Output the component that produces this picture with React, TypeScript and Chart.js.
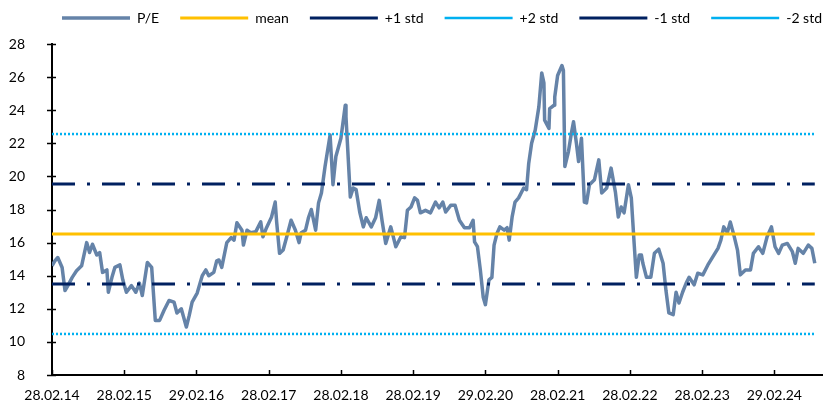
import { useEffect, useRef } from 'react';
import { Chart, registerables } from 'chart.js';

Chart.register(...registerables);

// Tick labels on the date axis (one per year, 28/29 Feb)
const tickLabels = ['28.02.14', '28.02.15', '29.02.16', '28.02.17', '28.02.18', '28.02.19', '29.02.20', '28.02.21', '28.02.22', '28.02.23', '29.02.24'];
const tickYears = [0, 1, 2, 3, 4, 5, 6, 7, 8, 9, 10];

// Time in years since 28.02.14
const years = [
  0.00, 0.04, 0.08, 0.14, 0.18, 0.22, 0.28, 0.34, 0.41, 0.48, 0.52, 0.56, 0.62, 0.66, 0.70, 0.76, 0.78, 0.83, 0.87, 0.94,
  0.98, 1.03, 1.10, 1.16, 1.21, 1.25, 1.32, 1.38, 1.43, 1.49, 1.55, 1.62, 1.69, 1.73, 1.79, 1.86, 1.90, 1.94, 2.01, 2.08,
  2.13, 2.17, 2.24, 2.28, 2.31, 2.35, 2.42, 2.48, 2.52, 2.56, 2.63, 2.65, 2.70, 2.75, 2.82, 2.89, 2.92, 2.97, 3.04, 3.09,
  3.11, 3.15, 3.20, 3.25, 3.31, 3.37, 3.42, 3.45, 3.51, 3.55, 3.59, 3.65, 3.69, 3.73, 3.78, 3.85, 3.89, 3.93, 4.00, 4.06,
  4.07, 4.13, 4.17, 4.21, 4.26, 4.31, 4.35, 4.42, 4.48, 4.53, 4.57, 4.62, 4.69, 4.76, 4.83, 4.88, 4.92, 4.97, 5.02, 5.06,
  5.10, 5.17, 5.24, 5.31, 5.36, 5.41, 5.45, 5.52, 5.58, 5.64, 5.71, 5.78, 5.83, 5.85, 5.89, 5.93, 5.97, 6.00, 6.05, 6.09,
  6.12, 6.16, 6.20, 6.26, 6.30, 6.33, 6.37, 6.41, 6.46, 6.53, 6.57, 6.60, 6.64, 6.69, 6.74, 6.78, 6.81, 6.82, 6.88, 6.89,
  6.95, 6.96, 7.00, 7.06, 7.08, 7.10, 7.15, 7.19, 7.22, 7.26, 7.29, 7.33, 7.37, 7.40, 7.44, 7.51, 7.57, 7.61, 7.68, 7.74,
  7.80, 7.84, 7.88, 7.92, 7.98, 8.02, 8.06, 8.09, 8.13, 8.16, 8.18, 8.23, 8.29, 8.34, 8.40, 8.46, 8.50, 8.54, 8.60, 8.64,
  8.68, 8.73, 8.78, 8.82, 8.89, 8.94, 9.01, 9.08, 9.15, 9.22, 9.26, 9.30, 9.35, 9.39, 9.44, 9.49, 9.53, 9.60, 9.67, 9.71,
  9.78, 9.84, 9.90, 9.96, 10.01, 10.06, 10.11, 10.18, 10.25, 10.29, 10.33, 10.40, 10.47, 10.52, 10.56,
];

// P/E values
const peValues = [
  14.6, 14.9, 15.1, 14.5, 13.1, 13.4, 13.9, 14.3, 14.6, 16.0, 15.4, 15.9, 15.25, 15.4, 14.2, 14.35, 13.0, 13.9, 14.5, 14.65,
  13.75, 13.0, 13.4, 13.0, 13.55, 12.8, 14.8, 14.5, 11.3, 11.3, 11.9, 12.5, 12.4, 11.75, 12.0, 10.9, 11.6, 12.4, 12.95, 14.0,
  14.35, 14.0, 14.2, 14.9, 14.95, 14.5, 16.0, 16.3, 16.15, 17.2, 16.75, 15.85, 16.75, 16.6, 16.65, 17.25, 16.35, 16.9, 17.55, 18.45,
  17.25, 15.35, 15.55, 16.35, 17.35, 16.75, 16.0, 16.6, 16.75, 17.5, 18.0, 16.75, 18.4, 19.0, 20.6, 22.5, 19.5, 21.2, 22.3, 24.3,
  23.6, 18.75, 19.3, 19.2, 17.85, 16.95, 17.5, 16.95, 17.5, 18.55, 17.3, 15.95, 16.95, 15.75, 16.35, 16.3, 17.95, 18.15, 18.7, 18.55,
  17.8, 17.95, 17.8, 18.45, 18.1, 18.45, 17.85, 18.25, 18.25, 17.35, 16.9, 16.9, 17.35, 16.05, 15.75, 14.35, 12.7, 12.25, 13.75, 13.9,
  15.85, 16.55, 16.95, 16.75, 16.9, 16.15, 17.55, 18.45, 18.7, 19.3, 19.2, 20.8, 22.0, 22.8, 24.2, 26.25, 25.65, 23.4, 22.9, 24.1,
  24.3, 24.8, 26.1, 26.7, 26.4, 20.6, 21.5, 22.6, 23.3, 22.0, 20.9, 22.3, 18.45, 18.4, 19.5, 19.8, 21.0, 19.0, 19.3, 20.5,
  19.05, 17.55, 18.15, 17.8, 19.5, 18.7, 15.9, 13.9, 15.25, 15.25, 14.75, 13.9, 13.9, 15.35, 15.6, 14.75, 13.1, 11.75, 11.65, 13.0,
  12.35, 13.0, 13.55, 13.9, 13.45, 14.15, 14.05, 14.65, 15.15, 15.65, 16.15, 16.95, 16.6, 17.25, 16.45, 15.55, 14.05, 14.35, 14.35, 15.35,
  15.75, 15.35, 16.35, 16.95, 15.75, 15.35, 15.85, 15.95, 15.45, 14.75, 15.65, 15.35, 15.85, 15.65, 14.75,
];

// Horizontal reference levels
const meanLevel = 16.52;
const plus1Std = 19.54;
const plus2Std = 22.56;
const minus1Std = 13.5;
const minus2Std = 10.48;

const seriesStart = 0;
const seriesEnd = 10.56;
const axisMax = 10.66;

const FONT = "Lato, 'Open Sans', sans-serif";
const LEGEND_PAD = 21;

const flat = (v: number) => [
  { x: seriesStart, y: v },
  { x: seriesEnd, y: v },
];

const tickMarks = {
  id: 'tickMarks',
  afterDraw(chart: any) {
    const { ctx, chartArea, scales } = chart;
    ctx.save();
    ctx.strokeStyle = '#000';
    ctx.lineWidth = 1.5;
    scales.y.ticks.forEach((t: any) => {
      const y = Math.round(scales.y.getPixelForValue(t.value)) + 0.5;
      ctx.beginPath();
      ctx.moveTo(chartArea.left - 5, y);
      ctx.lineTo(chartArea.left + 4, y);
      ctx.stroke();
    });
    scales.x.ticks.forEach((t: any) => {
      const x = Math.round(scales.x.getPixelForValue(t.value)) + 0.5;
      ctx.beginPath();
      ctx.moveTo(x, chartArea.bottom);
      ctx.lineTo(x, chartArea.bottom - 5);
      ctx.stroke();
    });
    ctx.restore();
  },
};

// place the legend row where the reference has it
const legendPlace = {
  id: 'legendPlace',
  afterLayout(chart: any) {
    const l = chart.legend;
    if (!l) return;
    const w = l.width;
    l.left = 62 - LEGEND_PAD;
    l.right = l.left + w;
    l.top = 18 - 7 - LEGEND_PAD;
  },
};

export default function App() {
  const ref = useRef<HTMLCanvasElement | null>(null);

  useEffect(() => {
    if (!ref.current) return;
    const pePoints = years.map((x, i) => ({ x, y: peValues[i] }));
    const chart = new Chart(ref.current, {
      type: 'line',
      data: {
        datasets: [
          { label: 'P/E', data: pePoints, borderColor: '#6583A8', borderWidth: 3.5, pointRadius: 0, borderJoinStyle: 'round', order: 2 },
          { label: 'mean', data: flat(meanLevel), borderColor: '#FFC000', borderWidth: 3, pointRadius: 0, order: 1 },
          { label: '+1 std', data: flat(plus1Std), borderColor: '#002060', borderWidth: 3, borderDash: [23, 12, 3, 12], pointRadius: 0, order: 1 },
          { label: '+2 std', data: flat(plus2Std), borderColor: '#00B0F0', borderWidth: 2.5, borderDash: [2, 2], pointRadius: 0, order: 1 },
          { label: '-1 std', data: flat(minus1Std), borderColor: '#002060', borderWidth: 3, borderDash: [23, 12, 3, 12], pointRadius: 0, order: 1 },
          { label: '-2 std', data: flat(minus2Std), borderColor: '#00B0F0', borderWidth: 2.5, borderDash: [2, 2], pointRadius: 0, order: 1 },
        ],
      },
      options: {
        animation: false,
        responsive: true,
        maintainAspectRatio: false,
        layout: { padding: { top: -1, right: 2, left: 0, bottom: 0 } },
        plugins: {
          tooltip: { enabled: false },
          legend: {
            position: 'top',
            align: 'start',
            labels: {
              usePointStyle: true,
              pointStyle: 'line',
              pointStyleWidth: 68,
              boxWidth: 68,
              padding: LEGEND_PAD,
              color: '#000',
              font: { family: FONT, size: 14 },
              sort: (a: any, b: any) => a.datasetIndex - b.datasetIndex,
            },
          },
        },
        scales: {
          x: {
            type: 'linear',
            min: 0,
            max: axisMax,
            grid: { display: false },
            border: { display: true, color: '#000', width: 2 },
            afterBuildTicks: (scale: any) => {
              scale.ticks = tickYears.map((v) => ({ value: v }));
            },
            afterFit: (scale: any) => {
              scale.height = 30;
            },
            ticks: {
              autoSkip: false,
              maxRotation: 0,
              padding: 4,
              color: '#000',
              font: { family: FONT, size: 14 },
              callback: (_v: any, i: number) => tickLabels[i],
            },
          },
          y: {
            min: 8,
            max: 28,
            grid: { display: false },
            border: { display: true, color: '#000', width: 2 },
            afterFit: (scale: any) => {
              scale.width = 52;
            },
            ticks: {
              stepSize: 2,
              padding: 19,
              color: '#000',
              font: { family: FONT, size: 14 },
            },
          },
        },
      },
      plugins: [tickMarks, legendPlace],
    } as any);
    return () => chart.destroy();
  }, []);

  return (
    <div style={{ position: 'fixed', left: 0, top: 0, width: 824, height: 405, background: '#fff' }}>
      <canvas ref={ref} />
    </div>
  );
}
